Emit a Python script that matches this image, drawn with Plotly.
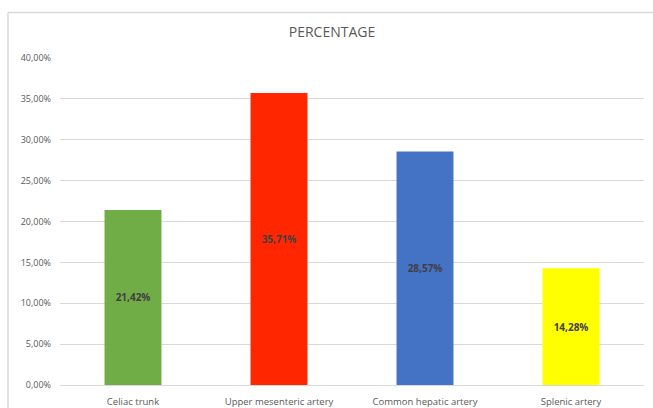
import plotly.graph_objects as go

categories = ["Celiac trunk", "Upper mesenteric artery", "Common hepatic artery", "Splenic artery"]
percentages = [0.2142, 0.3571, 0.2857, 0.1428]
bar_colors = ["#70AD47", "#FF2600", "#4472C4", "#FFFF00"]
y_ticks = [0, 0.05, 0.10, 0.15, 0.20, 0.25, 0.30, 0.35, 0.40]

W, H = 653, 408
ml, mr, mt, mb = 60, 9, 58, 23
pw, ph = W - ml - mr, H - mt - mb

fig = go.Figure(
    go.Bar(
        x=categories,
        y=percentages,
        marker=dict(color=bar_colors, line=dict(width=0)),
        width=0.39,
        text=[f"{v * 100:.2f}%".replace(".", ",") for v in percentages],
        textposition="inside",
        insidetextanchor="middle",
        textangle=0,
        textfont=dict(family="Open Sans", size=10, color="#404040", weight="bold"),
        hoverinfo="skip",
    )
)

# light grey frame around the chart area (open on the right and bottom)
fx0 = (8 - ml) / pw
fy1 = (H - mb - 12.5) / ph
fig.add_shape(type="line", xref="paper", yref="paper", x0=fx0, x1=1.2, y0=fy1, y1=fy1,
              line=dict(color="#D9D9D9", width=1.5))
fig.add_shape(type="line", xref="paper", yref="paper", x0=fx0, x1=fx0, y0=-0.2, y1=fy1,
              line=dict(color="#D9D9D9", width=1.5))

fig.update_layout(
    width=W,
    height=H,
    margin=dict(l=ml, r=mr, t=mt, b=mb, autoexpand=False),
    paper_bgcolor="white",
    plot_bgcolor="white",
    separators=",.",
    showlegend=False,
    title=dict(
        text="PERCENTAGE",
        x=332 / W,
        xanchor="center",
        y=1 - 32 / H,
        yanchor="middle",
        font=dict(family="Open Sans", size=14, color="#595959"),
    ),
    bargap=0.61,
)

fig.update_xaxes(
    showgrid=False,
    showline=False,
    ticks="",
    ticklabelstandoff=9,
    tickfont=dict(family="Open Sans", size=9.5, color="#595959"),
    fixedrange=True,
)
fig.update_yaxes(
    range=[0, 0.40],
    tickvals=y_ticks,
    tickformat=".2%",
    showgrid=True,
    gridcolor="#D9D9D9",
    gridwidth=1,
    zeroline=True,
    zerolinecolor="#D9D9D9",
    zerolinewidth=1,
    showline=False,
    ticks="",
    ticklabelstandoff=8,
    tickfont=dict(family="Open Sans", size=9, color="#595959"),
    fixedrange=True,
)

fig.write_html("out.html", config={"displayModeBar": False})
